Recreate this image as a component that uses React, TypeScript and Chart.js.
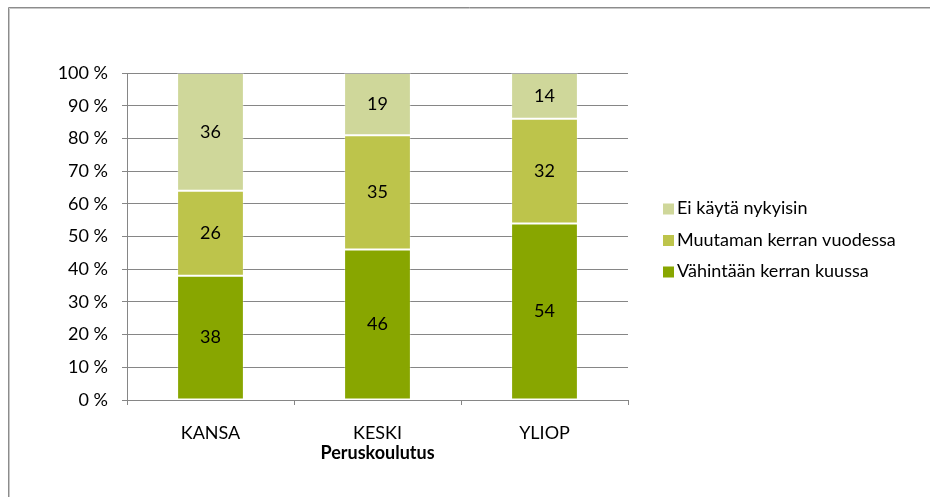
import React, { useEffect, useRef } from "react";
import { Chart, registerables } from "chart.js";

Chart.register(...registerables);

const categories = ["KANSA", "KESKI", "YLIOP"];
const seriesNames = ["Vähintään kerran kuussa", "Muutaman kerran vuodessa", "Ei käytä nykyisin"];
const monthlyValues = [38, 46, 54];
const yearlyValues = [26, 35, 32];
const notUsingValues = [36, 19, 14];
const seriesColors = ["#88A600", "#BDC44B", "#CFD79A"];
const yMin = 0;
const yMax = 100;
const yStep = 10;
const xAxisTitle = "Peruskoulutus";

const FONT = "Lato, 'Liberation Sans', sans-serif";
const FONT_SIZE = 18;
const GRID = "#868686";

const framePlugin = {
  id: "frame",
  beforeDraw(chart: any) {
    const ctx = chart.ctx;
    ctx.save();
    ctx.fillStyle = "#ffffff";
    ctx.fillRect(0, 0, chart.width, chart.height);
    ctx.strokeStyle = "#8c8c8c";
    ctx.lineWidth = 1;
    ctx.beginPath();
    ctx.moveTo(8.5, chart.height);
    ctx.lineTo(8.5, 7.5);
    ctx.lineTo(chart.width, 7.5);
    ctx.stroke();
    ctx.strokeStyle = "#c8c8c8";
    ctx.beginPath();
    ctx.moveTo(9.5, chart.height);
    ctx.lineTo(9.5, 8.5);
    ctx.lineTo(chart.width, 8.5);
    ctx.stroke();
    ctx.restore();
  },
};

const valueLabelPlugin = {
  id: "valueLabels",
  afterDatasetsDraw(chart: any) {
    const ctx = chart.ctx;
    ctx.save();
    ctx.font = `${FONT_SIZE}px ${FONT}`;
    ctx.fillStyle = "#000000";
    ctx.textAlign = "center";
    ctx.textBaseline = "middle";
    chart.data.datasets.forEach((ds: any, di: number) => {
      const meta = chart.getDatasetMeta(di);
      meta.data.forEach((el: any, i: number) => {
        const v = ds.data[i];
        ctx.fillText(String(v), el.x, (el.y + el.base) / 2);
      });
    });
    ctx.restore();
  },
};

const legendPlugin = {
  id: "sideLegend",
  afterDraw(chart: any) {
    const ctx = chart.ctx;
    const area = chart.chartArea;
    const x0 = area.right + 35;
    const rowGap = 31.5;
    const n = chart.data.datasets.length;
    const yCenter = 240;
    ctx.save();
    ctx.font = `${FONT_SIZE}px ${FONT}`;
    ctx.textAlign = "left";
    ctx.textBaseline = "middle";
    for (let k = 0; k < n; k++) {
      const di = n - 1 - k;
      const ds = chart.data.datasets[di];
      const y = yCenter + (k - (n - 1) / 2) * rowGap;
      ctx.fillStyle = ds.backgroundColor;
      ctx.fillRect(x0, y - 5, 11, 11);
      ctx.fillStyle = "#000000";
      ctx.fillText(ds.label, x0 + 14, y);
    }
    ctx.restore();
  },
};

export default function App() {
  const canvasRef = useRef<HTMLCanvasElement | null>(null);

  useEffect(() => {
    document.body.style.margin = "0";
    const canvas = canvasRef.current;
    if (!canvas) return;
    const seriesValues = [monthlyValues, yearlyValues, notUsingValues];
    const chart = new Chart(canvas, {
      type: "bar",
      data: {
        labels: categories,
        datasets: seriesNames.map((name, i) => ({
          label: name,
          data: seriesValues[i],
          backgroundColor: seriesColors[i],
          borderColor: "rgba(255,255,255,0.28)",
          borderWidth: 1,
          borderSkipped: false,
          categoryPercentage: 0.4,
          barPercentage: 1,
        })),
      },
      options: {
        responsive: false,
        animation: false,
        devicePixelRatio: 1,
        layout: { padding: { left: 0, right: 302, top: 73, bottom: 0 } },
        plugins: {
          legend: { display: false },
          tooltip: { enabled: false },
        },
        scales: {
          x: {
            stacked: true,
            grid: {
              drawOnChartArea: false,
              drawTicks: true,
              tickLength: 5,
              color: GRID,
              offset: true,
            },
            border: { color: GRID },
            ticks: {
              color: "#000000",
              padding: 17,
              font: { family: FONT, size: FONT_SIZE },
            },
            title: {
              display: true,
              text: xAxisTitle,
              color: "#000000",
              font: { family: FONT, size: FONT_SIZE, weight: "bold" },
              padding: { top: 0, bottom: 33 },
            },
            afterFit: (s: any) => {
              s.height = 97;
            },
          },
          y: {
            stacked: true,
            min: yMin,
            max: yMax,
            grid: {
              color: GRID,
              drawTicks: true,
              tickLength: 5,
            },
            border: { color: GRID },
            ticks: {
              stepSize: yStep,
              color: "#000000",
              padding: 14,
              font: { family: FONT, size: FONT_SIZE },
              callback: (v: any) => `${v} %`,
            },
            afterFit: (s: any) => {
              s.width = 127;
            },
          },
        },
      },
      plugins: [framePlugin, valueLabelPlugin, legendPlugin],
    });
    return () => chart.destroy();
  }, []);

  return (
    <div style={{ width: 930, height: 497 }}>
      <canvas ref={canvasRef} width={930} height={497} style={{ display: "block" }} />
    </div>
  );
}
